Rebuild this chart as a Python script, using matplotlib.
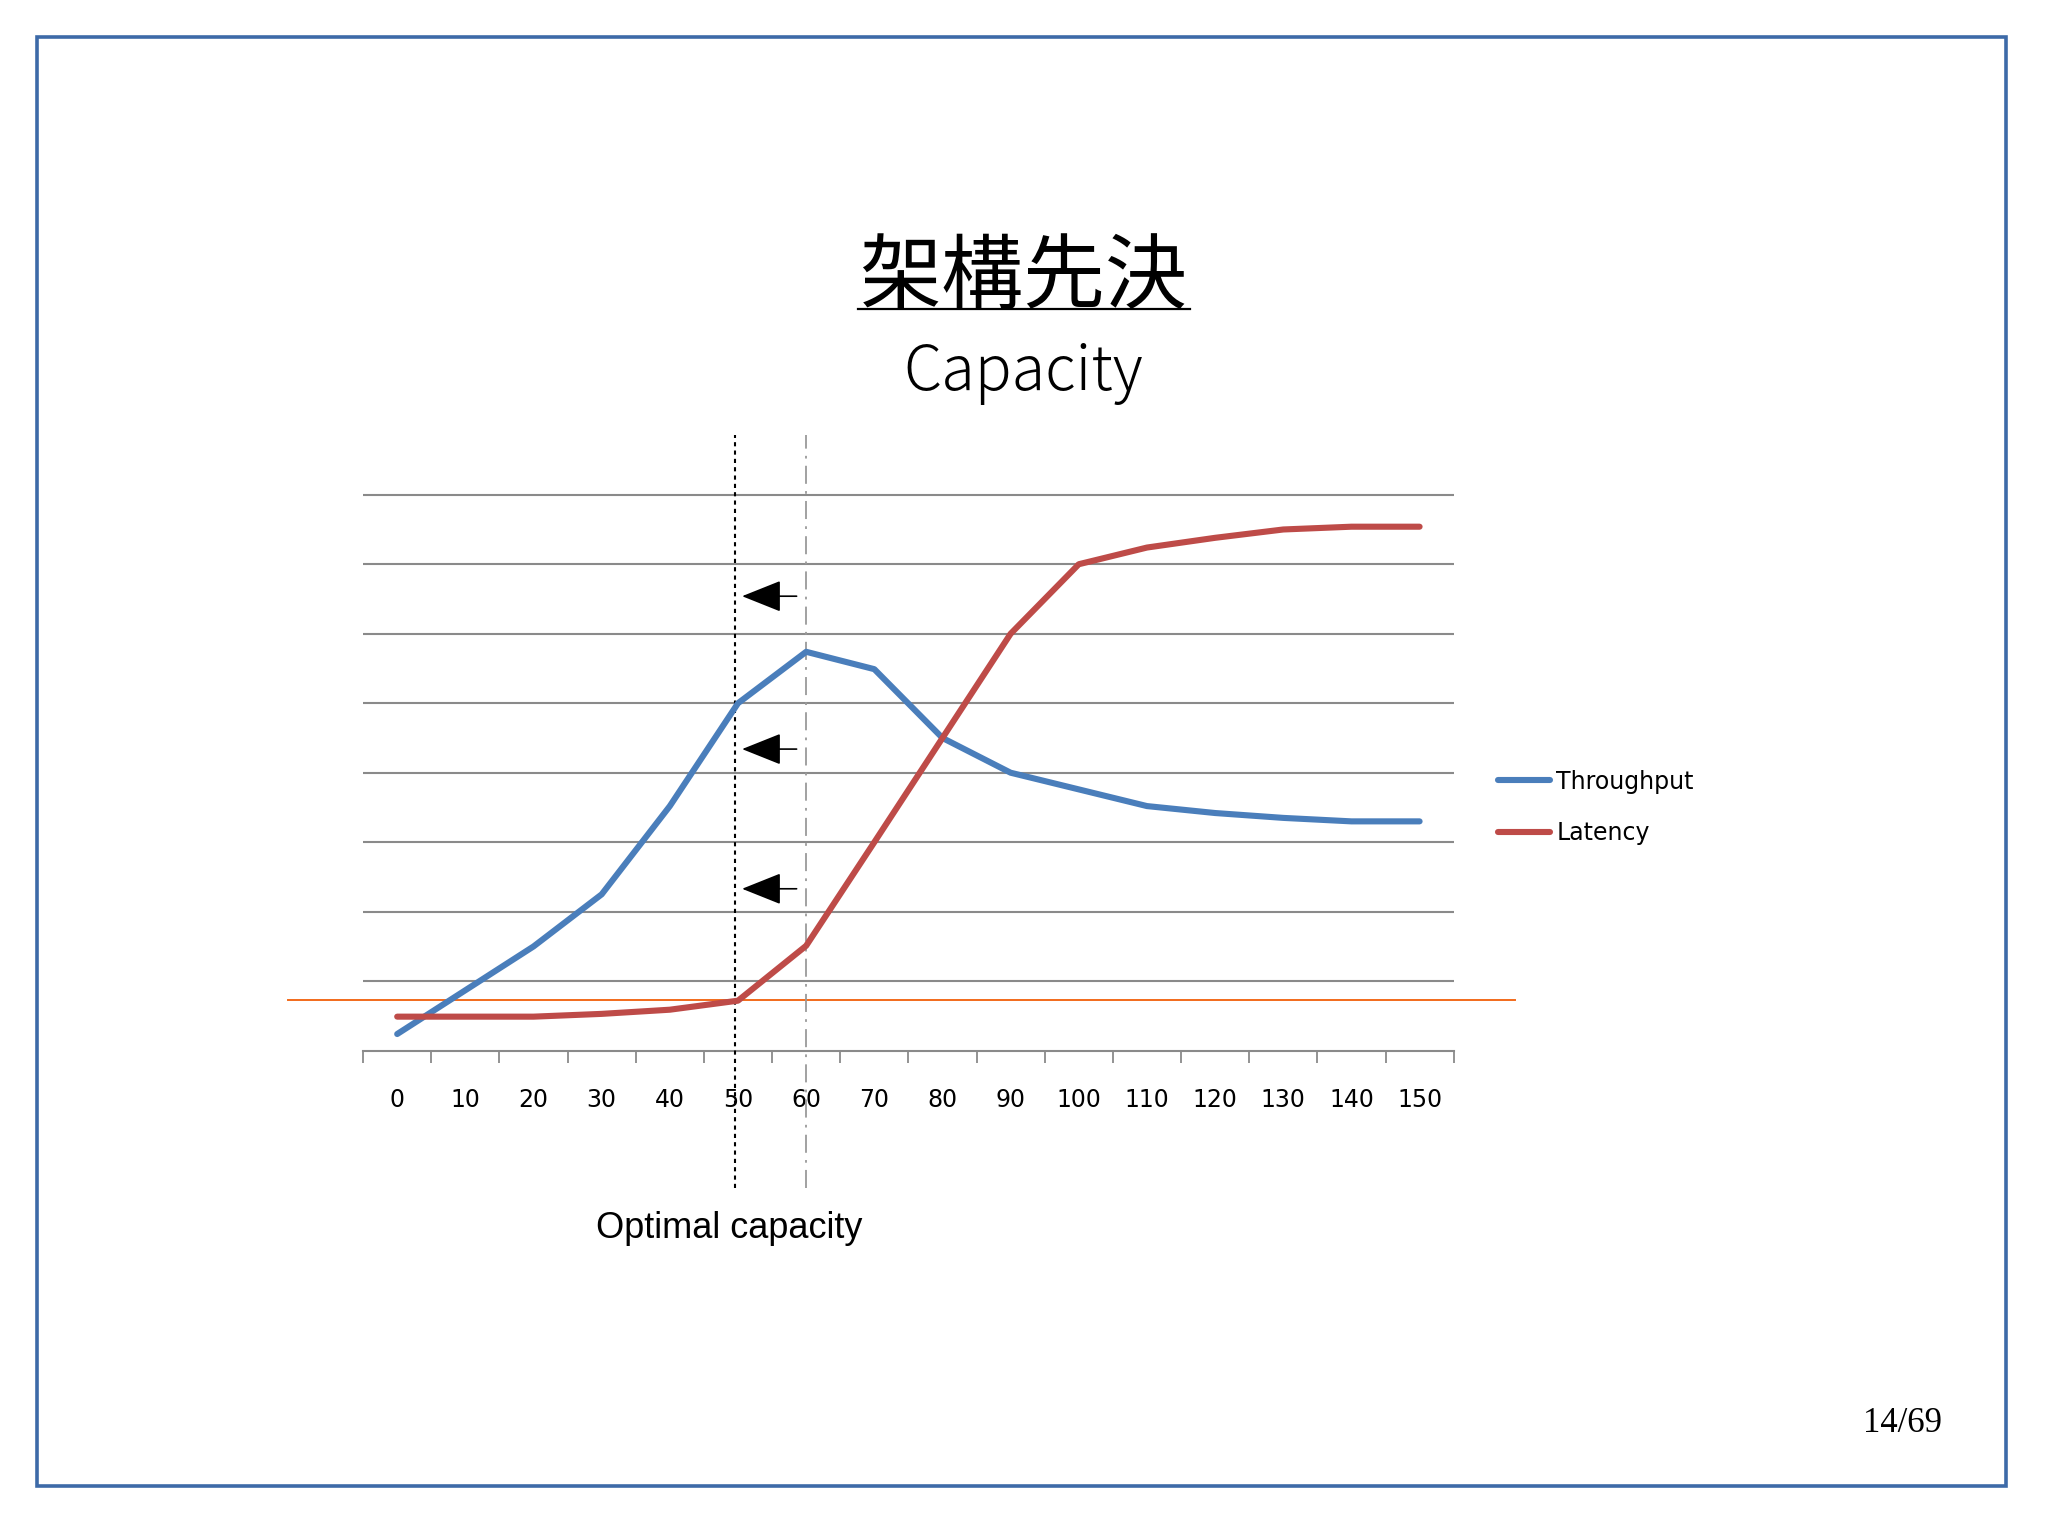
import matplotlib
matplotlib.use("Agg")
import matplotlib.pyplot as plt
from matplotlib.lines import Line2D
from matplotlib.patches import Rectangle

# data
loads = [0, 10, 20, 30, 40, 50, 60, 70, 80, 90, 100, 110, 120, 130, 140, 150]
throughput = [0.24, 0.87, 1.50, 2.25, 3.52, 5.0, 5.74, 5.49, 4.50, 4.0, 3.76, 3.52, 3.42, 3.35, 3.30, 3.30]
latency = [0.49, 0.49, 0.49, 0.53, 0.59, 0.72, 1.51, 3.0, 4.5, 6.0, 7.0, 7.24, 7.38, 7.50, 7.54, 7.54]
tick_labels = [str(v) for v in loads]
limit_level = 0.73          # orange threshold line
optimal_x = 49.5            # dotted line
peak_x = 60                 # dash-dot line
arrow_levels = [6.54, 4.34, 2.33]

fig = plt.figure(figsize=(20.48, 15.35), dpi=100)
fig.patch.set_facecolor("white")

# slide border
fig.add_artist(Rectangle((0.0179, 0.0319), 0.9616, 0.9443, transform=fig.transFigure,
                         fill=False, edgecolor="#3d6aa8", linewidth=2.6))

# titles
fig.text(0.4995, 0.8185, "架構先決", ha="center", va="center", fontsize=59,
         family=["Noto Sans CJK JP", "DejaVu Sans"], color="black")
fig.add_artist(Line2D([0.419, 0.581], [0.7985, 0.7985], transform=fig.transFigure,
                      color="black", linewidth=1.6))
fig.text(0.4995, 0.757, "Capacity", ha="center", va="center", fontsize=44,
         family=["Noto Sans CJK JP", "DejaVu Sans"], fontweight="light", color="black")

ax = fig.add_axes([0.1773, 0.3155, 0.5325, 0.3622])
ax.set_xlim(-5, 155)
ax.set_ylim(0, 8)

# horizontal grid
ax.hlines(range(1, 9), -5, 155, colors="#8a8a8a", linewidth=1.5, clip_on=False, zorder=1)

# threshold line runs past the plot
ax.plot([-16, 164], [limit_level, limit_level], color="#f26a1b", linewidth=1.4,
        clip_on=False, zorder=2)

ax.plot(loads, throughput, color="#4a7ebb", linewidth=4.4, label="Throughput",
        solid_capstyle="round", zorder=4, clip_on=False)
ax.plot(loads, latency, color="#be4b48", linewidth=4.4, label="Latency",
        solid_capstyle="round", zorder=4, clip_on=False)

# vertical markers
ax.plot([optimal_x, optimal_x], [-1.97, 8.86], color="black", linewidth=1.5,
        linestyle=(0, (2, 2)), clip_on=False, zorder=3)
ax.plot([peak_x, peak_x], [-1.97, 8.86], color="#9a9a9a", linewidth=1.3,
        linestyle=(0, (10, 4, 1.5, 4)), clip_on=False, zorder=3)

for lv in arrow_levels:
    ax.annotate("", xy=(50.6, lv), xytext=(58.6, lv),
                arrowprops=dict(arrowstyle="-|>,head_length=1.25,head_width=0.5",
                                mutation_scale=20, color="black", lw=1.2,
                                shrinkA=0, shrinkB=0))

# axes styling
for side in ["top", "right", "left"]:
    ax.spines[side].set_visible(False)
ax.spines["bottom"].set_color("#8a8a8a")
ax.spines["bottom"].set_linewidth(1.5)
ax.set_yticks([])
ax.set_xticks(loads)
ax.set_xticklabels(tick_labels, fontsize=17, family="DejaVu Sans")
ax.tick_params(axis="x", which="major", length=0, pad=27)
ax.set_xticks([v - 5 for v in loads] + [155], minor=True)
ax.tick_params(axis="x", which="minor", length=8.6, width=1.3, color="#8a8a8a", direction="out")

ax.legend(loc="center left", bbox_to_anchor=(1.041, 0.438), frameon=False,
          fontsize=17, handlelength=2.2, handletextpad=0.25, labelspacing=1.15,
          borderpad=0, borderaxespad=0)

fig.text(0.3559, 0.1998, "Optimal capacity", ha="center", va="center", fontsize=26,
         family="Liberation Sans", color="black")
fig.text(0.929, 0.0724, "14/69", ha="center", va="center", fontsize=25,
         family="Liberation Serif", color="black")

fig.savefig("out.png", dpi=100, facecolor="white")
